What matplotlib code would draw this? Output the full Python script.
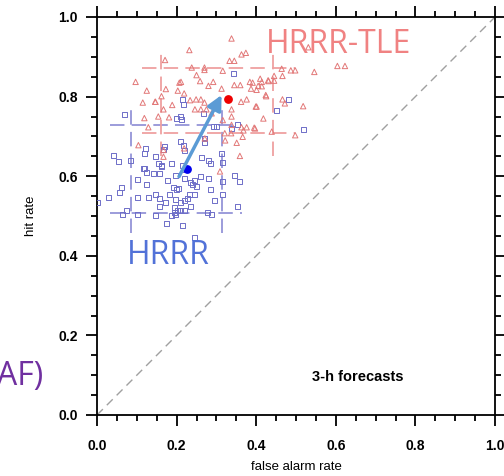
import matplotlib
matplotlib.use('Agg')
import matplotlib.pyplot as plt
from matplotlib.ticker import MultipleLocator

# HRRR-TLE (red triangles): false alarm rate / hit rate
tle_far = [0.338, 0.232, 0.363, 0.374, 0.171, 0.333, 0.345, 0.238, 0.270, 0.270,
           0.316, 0.097, 0.211, 0.259, 0.360, 0.345, 0.384, 0.410, 0.430, 0.125,
           0.173, 0.203, 0.219, 0.234, 0.249, 0.280, 0.292, 0.313, 0.387, 0.405,
           0.401, 0.425, 0.147, 0.162, 0.189, 0.261, 0.270, 0.376, 0.401, 0.338,
           0.362, 0.246, 0.261, 0.275, 0.288, 0.167, 0.181, 0.119, 0.154, 0.129,
           0.338, 0.316, 0.338, 0.363, 0.376, 0.397, 0.321, 0.337, 0.368, 0.439,
           0.464, 0.487, 0.498, 0.445, 0.445, 0.104, 0.167, 0.167, 0.219, 0.271,
           0.351, 0.359, 0.309, 0.322, 0.366, 0.531, 0.604, 0.623, 0.546, 0.466,
           0.431, 0.414, 0.414, 0.391, 0.424, 0.466, 0.472, 0.399, 0.518, 0.418,
           0.395, 0.498, 0.207, 0.250, 0.115, 0.146]
tle_hit = [0.946, 0.917, 0.906, 0.910, 0.892, 0.890, 0.890, 0.873, 0.873, 0.867,
           0.865, 0.837, 0.837, 0.839, 0.829, 0.829, 0.837, 0.845, 0.841, 0.815,
           0.819, 0.815, 0.808, 0.791, 0.793, 0.827, 0.837, 0.820, 0.820, 0.827,
           0.817, 0.801, 0.787, 0.801, 0.779, 0.793, 0.785, 0.793, 0.775, 0.768,
           0.787, 0.768, 0.768, 0.768, 0.758, 0.768, 0.748, 0.746, 0.750, 0.723,
           0.750, 0.741, 0.729, 0.723, 0.723, 0.720, 0.708, 0.708, 0.715, 0.712,
           0.870, 0.866, 0.866, 0.852, 0.840, 0.678, 0.649, 0.666, 0.670, 0.695,
           0.684, 0.651, 0.612, 0.690, 0.699, 0.924, 0.877, 0.877, 0.862, 0.852,
           0.839, 0.837, 0.826, 0.835, 0.804, 0.793, 0.783, 0.775, 0.776, 0.745,
           0.722, 0.703, 0.835, 0.854, 0.785, 0.787]

# HRRR (blue squares)
hrrr_far = [0.344, 0.482, 0.451, 0.518, 0.214, 0.217, 0.200, 0.211, 0.213, 0.069,
            0.292, 0.300, 0.271, 0.337, 0.353, 0.209, 0.218, 0.169, 0.167, 0.123,
            0.119, 0.221, 0.263, 0.313, 0.042, 0.054, 0.085, 0.146, 0.154, 0.162,
            0.119, 0.125, 0.188, 0.214, 0.219, 0.281, 0.284, 0.316, 0.345, 0.357,
            0.102, 0.141, 0.158, 0.177, 0.198, 0.219, 0.234, 0.246, 0.240, 0.259,
            0.250, 0.125, 0.191, 0.200, 0.286, 0.316, 0.062, 0.056, 0.030, 0.102,
            0.129, 0.148, 0.156, 0.173, 0.196, 0.221, 0.232, 0.245, 0.294, 0.075,
            0.064, 0.194, 0.194, 0.203, 0.211, 0.221, 0.236, 0.102, 0.146, 0.278,
            0.288, 0.353, 0.000, 0.175, 0.215, 0.245, 0.267, 0.280, 0.316, 0.183,
            0.157, 0.188, 0.196, 0.210, 0.228, 0.205, 0.271, 0.161, 0.116]
hrrr_hit = [0.859, 0.793, 0.766, 0.718, 0.792, 0.781, 0.746, 0.750, 0.742, 0.754,
            0.726, 0.726, 0.684, 0.720, 0.729, 0.688, 0.678, 0.674, 0.667, 0.670,
            0.657, 0.664, 0.647, 0.657, 0.651, 0.638, 0.639, 0.649, 0.631, 0.628,
            0.620, 0.609, 0.632, 0.626, 0.617, 0.640, 0.631, 0.634, 0.603, 0.586,
            0.592, 0.607, 0.607, 0.588, 0.602, 0.595, 0.585, 0.588, 0.578, 0.600,
            0.574, 0.578, 0.571, 0.567, 0.567, 0.555, 0.571, 0.559, 0.547, 0.547,
            0.547, 0.553, 0.543, 0.534, 0.542, 0.540, 0.553, 0.553, 0.540, 0.515,
            0.505, 0.510, 0.521, 0.515, 0.515, 0.515, 0.524, 0.503, 0.502, 0.508,
            0.503, 0.523, 0.535, 0.482, 0.477, 0.446, 0.758, 0.595, 0.586, 0.553,
            0.525, 0.501, 0.504, 0.535, 0.545, 0.568, 0.695, 0.624, 0.620]

# means
hrrr_mean = (0.225, 0.617)
tle_mean = (0.328, 0.793)

# dashed percentile lines: positions and extents
hrrr_far_pct = [0.085, 0.313]
hrrr_hit_pct = [0.507, 0.729]
hrrr_far_span = (0.033, 0.364)
hrrr_hit_span = (0.457, 0.780)
tle_far_pct = [0.162, 0.443]
tle_hit_pct = [0.708, 0.873]
tle_far_span = (0.112, 0.497)
tle_hit_span = (0.652, 0.922)

ticks = [0.0, 0.2, 0.4, 0.6, 0.8, 1.0]

fig = plt.figure(figsize=(5.04, 4.76), dpi=100)
ax = fig.add_axes([97/504, 61/476, 398/504, 398/476])

ax.plot([0, 1], [0, 1], color='#a0a0a0', lw=1.0, ls=(0, (6, 4)), zorder=1)

blue_dash = '#9494d8'
red_dash = '#efa0a0'
for xv in hrrr_far_pct:
    ax.plot([xv, xv], hrrr_hit_span, color=blue_dash, lw=1.3, ls=(0, (8, 4)), zorder=2)
for yv in hrrr_hit_pct:
    ax.plot(hrrr_far_span, [yv, yv], color=blue_dash, lw=1.3, ls=(0, (8, 4)), zorder=2)
for xv in tle_far_pct:
    ax.plot([xv, xv], tle_hit_span, color=red_dash, lw=1.3, ls=(0, (8, 4)), zorder=2)
for yv in tle_hit_pct:
    ax.plot(tle_far_span, [yv, yv], color=red_dash, lw=1.3, ls=(0, (8, 4)), zorder=2)

ax.scatter(hrrr_far, hrrr_hit, marker='s', s=13, facecolors='none',
           edgecolors='#6e6ec8', linewidths=0.7, zorder=3)
ax.scatter(tle_far, tle_hit, marker='^', s=15, facecolors='none',
           edgecolors='#e27878', linewidths=0.7, zorder=3)

ax.scatter([hrrr_mean[0]], [hrrr_mean[1]], s=28, color='#0000ee', zorder=5)
ax.scatter([tle_mean[0]], [tle_mean[1]], s=28, color='#ee0000', zorder=5)

ax.annotate('', xy=(0.313, 0.804), xytext=(0.206, 0.599),
            arrowprops=dict(arrowstyle='-|>', color='#5b9bd5', lw=2.5,
                            mutation_scale=22, shrinkA=0, shrinkB=0), zorder=6)

ax.set_xlim(0, 1)
ax.set_ylim(0, 1)
ax.set_xticks(ticks)
ax.set_yticks(ticks)
ax.set_xticklabels(['%.1f' % t for t in ticks])
ax.set_yticklabels(['%.1f' % t for t in ticks])
ax.xaxis.set_minor_locator(MultipleLocator(0.05))
ax.yaxis.set_minor_locator(MultipleLocator(0.05))
ax.tick_params(which='both', direction='out', top=True, right=True, width=1.3)
ax.tick_params(which='major', length=8, labelsize=10)
ax.tick_params(which='minor', length=4.5)
ax.tick_params(axis='x', which='major', pad=9)
ax.tick_params(axis='y', which='major', pad=6)
for lab in ax.get_xticklabels() + ax.get_yticklabels():
    lab.set_fontfamily('Liberation Sans')
    lab.set_fontweight('bold')
for sp in ax.spines.values():
    sp.set_linewidth(1.3)

ax.set_xlabel('false alarm rate', fontfamily='Liberation Sans', fontsize=9.5, labelpad=6)
ax.set_ylabel('hit rate', fontfamily='Liberation Sans', fontsize=9.5, labelpad=15)

ax.text(0.54, 0.095, '3-h forecasts', fontfamily='Liberation Sans', fontweight='bold',
        fontsize=10.5, va='center', ha='left')

# slide overlay labels
ax.text(0.425, 0.931, 'HRRR-TLE', color='#f08282', fontfamily='Open Sans',
        fontsize=23, va='center', ha='left')
ax.text(0.075, 0.401, 'HRRR', color='#5272d8', fontfamily='Open Sans',
        fontsize=23, va='center', ha='left')
fig.text(43/504, 1 - 376/476, 'AF)', color='#7030a0', fontfamily='Open Sans',
         fontsize=23, va='center', ha='right')

fig.savefig('out.png', dpi=100)
